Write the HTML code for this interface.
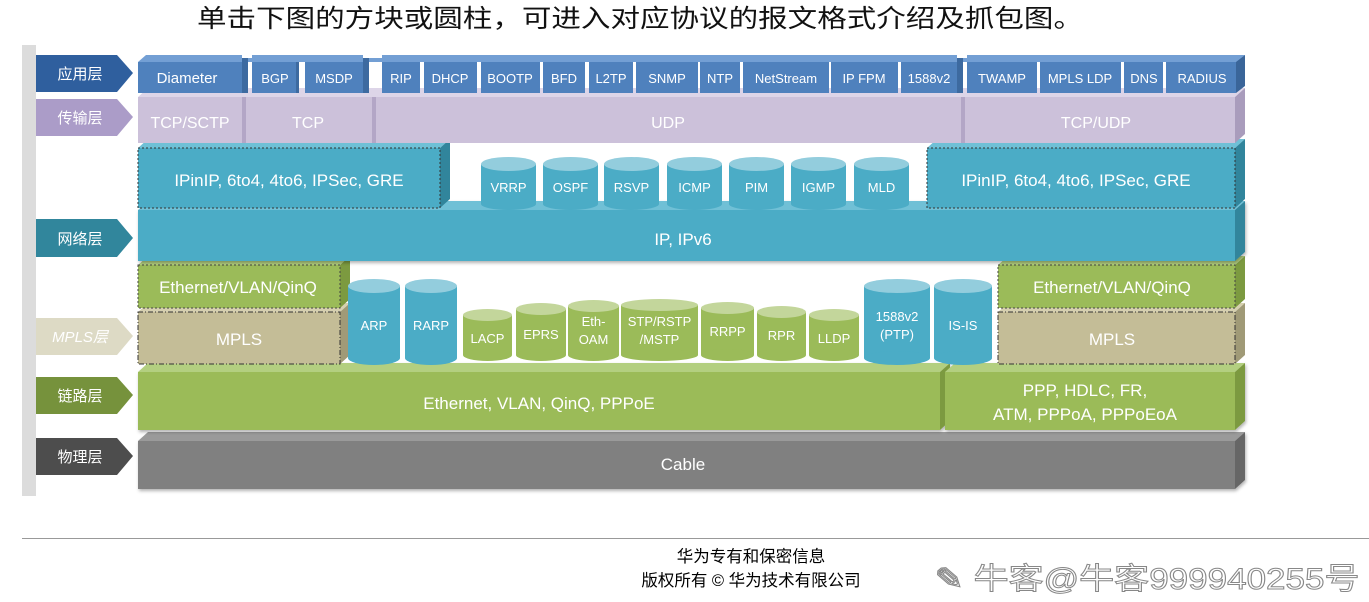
<!DOCTYPE html>
<html><head><meta charset="utf-8"><style>
html,body{margin:0;padding:0;background:#fff;width:1369px;height:602px;overflow:hidden}
svg{display:block}
text{font-family:"Liberation Sans","Noto Sans CJK SC",sans-serif;fill:#fff;text-anchor:middle}
</style></head><body>
<svg width="1369" height="602" viewBox="0 0 1369 602" xmlns="http://www.w3.org/2000/svg">
<defs>
<filter id="sh" x="-5%" y="-5%" width="110%" height="130%"><feDropShadow dx="1" dy="2" stdDeviation="1.5" flood-opacity="0.3"/></filter>
</defs>
<text x="640" y="27" font-size="25" style="fill:#111;font-family:'WenQuanYi Zen Hei','Noto Sans CJK SC',sans-serif" textLength="886" lengthAdjust="spacingAndGlyphs">单击下图的方块或圆柱，可进入对应协议的报文格式介绍及抓包图。</text>

<rect x="22" y="45" width="14" height="451" fill="#dcdcdc"/>
<g font-size="15">
<polygon points="36,55 117,55 133,73 117,92 36,92" fill="#2f5f9e"/><text x="80" y="79">应用层</text>
<polygon points="36,99 117,99 133,117 117,136 36,136" fill="#ab9cc8"/><text x="80" y="123">传输层</text>
<polygon points="36,219 117,219 133,238 117,257 36,257" fill="#31869c"/><text x="80" y="244">网络层</text>
<polygon points="36,318 117,318 133,336 117,355 36,355" fill="#dddac5"/><text x="80" y="342" font-style="italic">MPLS层</text>
<polygon points="36,377 117,377 133,395 117,414 36,414" fill="#76923c"/><text x="80" y="401">链路层</text>
<polygon points="36,438 117,438 133,456 117,475 36,475" fill="#4d4d4d"/><text x="80" y="462">物理层</text>
</g>

<g filter="url(#sh)">
<polygon points="138,441 148,432 1245,432 1235,441" fill="#9a9a9a"/>
<polygon points="1235,441 1245,432 1245,480 1235,489" fill="#666"/>
<rect x="138" y="441" width="1097" height="48" fill="#808080"/>
</g>
<text x="683" y="470" font-size="17">Cable</text>

<g filter="url(#sh)">
<polygon points="138,372 148,363 950,363 940,372" fill="#b3cf80"/>
<rect x="138" y="372" width="802" height="58" fill="#9bbb59"/>
<polygon points="940,372 950,363 950,421 940,430" fill="#7c9a40"/>
<polygon points="945,372 955,363 1245,363 1235,372" fill="#b3cf80"/>
<polygon points="1235,372 1245,363 1245,421 1235,430" fill="#7c9a40"/>
<rect x="945" y="372" width="290" height="58" fill="#9bbb59"/>
</g>
<text x="539" y="409" font-size="17">Ethernet,  VLAN,  QinQ,  PPPoE</text>
<text x="1085" y="396" font-size="17">PPP,  HDLC,   FR,</text>
<text x="1085" y="420" font-size="17">ATM,  PPPoA,  PPPoEoA</text>

<g>
<polygon points="138,312 148,303 350,303 340,312" fill="#d6d0b0"/>
<polygon points="340,312 350,303 350,355 340,364" fill="#a09a77"/>
<rect x="138" y="312" width="202" height="52" fill="#c4bd97" stroke="#333" stroke-dasharray="5,2,1,2"/>
<polygon points="998,312 1008,303 1245,303 1235,312" fill="#d6d0b0"/>
<polygon points="1235,312 1245,303 1245,355 1235,364" fill="#a09a77"/>
<rect x="998" y="312" width="237" height="52" fill="#c4bd97" stroke="#333" stroke-dasharray="5,2,1,2"/>
<polygon points="138,265 148,256 350,256 340,265" fill="#b3cf80"/>
<polygon points="340,265 350,256 350,299 340,308" fill="#7c9a40"/>
<rect x="138" y="265" width="202" height="43" fill="#9bbb59" stroke="#444" stroke-dasharray="2,2"/>
<polygon points="998,265 1008,256 1245,256 1235,265" fill="#b3cf80"/>
<polygon points="1235,265 1245,256 1245,299 1235,308" fill="#7c9a40"/>
<rect x="998" y="265" width="237" height="43" fill="#9bbb59" stroke="#444" stroke-dasharray="2,2"/>
</g>
<g font-size="17">
<text x="239" y="345">MPLS</text><text x="1112" y="345">MPLS</text>
<text x="238" y="293">Ethernet/VLAN/QinQ</text><text x="1112" y="293">Ethernet/VLAN/QinQ</text>
</g>

<g font-size="13">
<g><rect x="348" y="286" width="52" height="72" fill="#4bacc6"/><ellipse cx="374" cy="358" rx="26" ry="7" fill="#4bacc6"/><ellipse cx="374" cy="286" rx="26" ry="7" fill="#93cddd"/><text x="374" y="330">ARP</text></g>
<g><rect x="405" y="286" width="52" height="72" fill="#4bacc6"/><ellipse cx="431" cy="358" rx="26" ry="7" fill="#4bacc6"/><ellipse cx="431" cy="286" rx="26" ry="7" fill="#93cddd"/><text x="431" y="330">RARP</text></g>
<g><rect x="864" y="286" width="66" height="72" fill="#4bacc6"/><ellipse cx="897" cy="358" rx="33" ry="7" fill="#4bacc6"/><ellipse cx="897" cy="286" rx="33" ry="7" fill="#93cddd"/><text x="897" y="321">1588v2</text><text x="897" y="339">(PTP)</text></g>
<g><rect x="934" y="286" width="58" height="72" fill="#4bacc6"/><ellipse cx="963" cy="358" rx="29" ry="7" fill="#4bacc6"/><ellipse cx="963" cy="286" rx="29" ry="7" fill="#93cddd"/><text x="963" y="330">IS-IS</text></g>
<g><rect x="463" y="315" width="49" height="40" fill="#9bbb59"/><ellipse cx="487.5" cy="355" rx="24.5" ry="6" fill="#9bbb59"/><ellipse cx="487.5" cy="315" rx="24.5" ry="6" fill="#c3d69b"/><text x="487.5" y="343">LACP</text></g>
<g><rect x="516" y="309" width="50" height="46" fill="#9bbb59"/><ellipse cx="541" cy="355" rx="25" ry="6" fill="#9bbb59"/><ellipse cx="541" cy="309" rx="25" ry="6" fill="#c3d69b"/><text x="541" y="339">EPRS</text></g>
<g><rect x="568" y="306" width="51" height="49" fill="#9bbb59"/><ellipse cx="593.5" cy="355" rx="25.5" ry="6" fill="#9bbb59"/><ellipse cx="593.5" cy="306" rx="25.5" ry="6" fill="#c3d69b"/><text x="593.5" y="326">Eth-</text><text x="593.5" y="344">OAM</text></g>
<g><rect x="621" y="305" width="77" height="50" fill="#9bbb59"/><ellipse cx="659.5" cy="355" rx="38.5" ry="6" fill="#9bbb59"/><ellipse cx="659.5" cy="305" rx="38.5" ry="6" fill="#c3d69b"/><text x="659.5" y="326">STP/RSTP</text><text x="659.5" y="344">/MSTP</text></g>
<g><rect x="701" y="308" width="53" height="47" fill="#9bbb59"/><ellipse cx="727.5" cy="355" rx="26.5" ry="6" fill="#9bbb59"/><ellipse cx="727.5" cy="308" rx="26.5" ry="6" fill="#c3d69b"/><text x="727.5" y="336">RRPP</text></g>
<g><rect x="757" y="312" width="49" height="43" fill="#9bbb59"/><ellipse cx="781.5" cy="355" rx="24.5" ry="6" fill="#9bbb59"/><ellipse cx="781.5" cy="312" rx="24.5" ry="6" fill="#c3d69b"/><text x="781.5" y="340">RPR</text></g>
<g><rect x="809" y="315" width="50" height="40" fill="#9bbb59"/><ellipse cx="834" cy="355" rx="25" ry="6" fill="#9bbb59"/><ellipse cx="834" cy="315" rx="25" ry="6" fill="#c3d69b"/><text x="834" y="343">LLDP</text></g>
</g>

<g filter="url(#sh)">
<polygon points="138,210 148,201 1245,201 1235,210" fill="#6fc0d6"/>
<polygon points="1235,210 1245,201 1245,252 1235,261" fill="#31859c"/>
<rect x="138" y="210" width="1097" height="51" fill="#4bacc6"/>
</g>
<text x="683" y="245" font-size="17">IP,    IPv6</text>

<g font-size="13">
<g><rect x="481" y="164" width="55" height="40" fill="#4bacc6"/><ellipse cx="508.5" cy="204" rx="27.5" ry="6" fill="#4bacc6"/><ellipse cx="508.5" cy="164" rx="27.5" ry="7" fill="#93cddd"/><text x="508.5" y="192">VRRP</text></g>
<g><rect x="543" y="164" width="55" height="40" fill="#4bacc6"/><ellipse cx="570.5" cy="204" rx="27.5" ry="6" fill="#4bacc6"/><ellipse cx="570.5" cy="164" rx="27.5" ry="7" fill="#93cddd"/><text x="570.5" y="192">OSPF</text></g>
<g><rect x="604" y="164" width="55" height="40" fill="#4bacc6"/><ellipse cx="631.5" cy="204" rx="27.5" ry="6" fill="#4bacc6"/><ellipse cx="631.5" cy="164" rx="27.5" ry="7" fill="#93cddd"/><text x="631.5" y="192">RSVP</text></g>
<g><rect x="667" y="164" width="55" height="40" fill="#4bacc6"/><ellipse cx="694.5" cy="204" rx="27.5" ry="6" fill="#4bacc6"/><ellipse cx="694.5" cy="164" rx="27.5" ry="7" fill="#93cddd"/><text x="694.5" y="192">ICMP</text></g>
<g><rect x="729" y="164" width="55" height="40" fill="#4bacc6"/><ellipse cx="756.5" cy="204" rx="27.5" ry="6" fill="#4bacc6"/><ellipse cx="756.5" cy="164" rx="27.5" ry="7" fill="#93cddd"/><text x="756.5" y="192">PIM</text></g>
<g><rect x="791" y="164" width="55" height="40" fill="#4bacc6"/><ellipse cx="818.5" cy="204" rx="27.5" ry="6" fill="#4bacc6"/><ellipse cx="818.5" cy="164" rx="27.5" ry="7" fill="#93cddd"/><text x="818.5" y="192">IGMP</text></g>
<g><rect x="854" y="164" width="55" height="40" fill="#4bacc6"/><ellipse cx="881.5" cy="204" rx="27.5" ry="6" fill="#4bacc6"/><ellipse cx="881.5" cy="164" rx="27.5" ry="7" fill="#93cddd"/><text x="881.5" y="192">MLD</text></g>
</g>

<g>
<polygon points="138,148 148,139 450,139 440,148" fill="#6fc0d6"/>
<polygon points="440,148 450,139 450,199 440,208" fill="#31859c"/>
<rect x="138" y="148" width="302" height="60" fill="#4bacc6" stroke="#333" stroke-dasharray="2,2"/>
<polygon points="927,148 937,139 1245,139 1235,148" fill="#6fc0d6"/>
<polygon points="1235,148 1245,139 1245,199 1235,208" fill="#31859c"/>
<rect x="927" y="148" width="308" height="60" fill="#4bacc6" stroke="#333" stroke-dasharray="2,2"/>
</g>
<text x="289" y="186" font-size="17">IPinIP,  6to4,  4to6,  IPSec,  GRE</text>
<text x="1076" y="186" font-size="17">IPinIP,  6to4,  4to6,  IPSec,  GRE</text>

<g>
<polygon points="138,97 148,88 1245,88 1235,97" fill="#ddd5e8"/>
<polygon points="1235,97 1245,88 1245,134 1235,143" fill="#a99cbc"/>
<rect x="138" y="97" width="104" height="46" fill="#ccc1da"/>
<rect x="246" y="97" width="126" height="46" fill="#ccc1da"/>
<rect x="376" y="97" width="585" height="46" fill="#ccc1da"/>
<rect x="965" y="97" width="270" height="46" fill="#ccc1da"/>
<rect x="242" y="97" width="4" height="46" fill="#b3a6c6"/>
<rect x="372" y="97" width="4" height="46" fill="#b3a6c6"/>
<rect x="961" y="97" width="4" height="46" fill="#b3a6c6"/>
</g>
<g font-size="16">
<text x="190" y="128">TCP/SCTP</text><text x="308" y="128">TCP</text><text x="668" y="128">UDP</text><text x="1096" y="128">TCP/UDP</text>
</g>

<g>
<polygon points="138,62 146,55 1245,55 1237,62" fill="#739fd4"/>
<polygon points="1236,62 1245,55 1245,86 1236,93" fill="#3a6599"/>
<rect x="138" y="62" width="104" height="31" fill="#4f81bd"/><rect x="242" y="58" width="6" height="35" fill="#3d6aa0"/>
<rect x="252" y="62" width="44" height="31" fill="#4f81bd"/><rect x="296" y="62" width="3" height="31" fill="#3d6aa0"/>
<rect x="305" y="62" width="58" height="31" fill="#4f81bd"/><rect x="363" y="58" width="6" height="35" fill="#3d6aa0"/>
<rect x="382" y="62" width="38" height="31" fill="#4f81bd"/>
<rect x="424" y="62" width="53" height="31" fill="#4f81bd"/>
<rect x="481" y="62" width="59" height="31" fill="#4f81bd"/>
<rect x="543" y="62" width="42" height="31" fill="#4f81bd"/>
<rect x="589" y="62" width="44" height="31" fill="#4f81bd"/>
<rect x="636" y="62" width="62" height="31" fill="#4f81bd"/>
<rect x="700" y="62" width="40" height="31" fill="#4f81bd"/>
<rect x="743" y="62" width="86" height="31" fill="#4f81bd"/>
<rect x="831" y="62" width="67" height="31" fill="#4f81bd"/>
<rect x="901" y="62" width="56" height="31" fill="#4f81bd"/><rect x="957" y="58" width="6" height="35" fill="#3d6aa0"/>
<rect x="967" y="62" width="70" height="31" fill="#4f81bd"/>
<rect x="1040" y="62" width="81" height="31" fill="#4f81bd"/>
<rect x="1124" y="62" width="39" height="31" fill="#4f81bd"/>
<rect x="1166" y="62" width="70" height="31" fill="#4f81bd"/>
<rect x="242" y="50" width="10" height="8" fill="#fff"/><rect x="363" y="50" width="19" height="8" fill="#fff"/><rect x="957" y="50" width="10" height="8" fill="#fff"/>
</g>
<g font-size="13">
<text x="187" y="83" font-size="15">Diameter</text>
<text x="275" y="83">BGP</text><text x="334" y="83">MSDP</text>
<text x="401" y="83">RIP</text><text x="450" y="83">DHCP</text><text x="510" y="83">BOOTP</text>
<text x="564" y="83">BFD</text><text x="611" y="83">L2TP</text><text x="667" y="83">SNMP</text>
<text x="720" y="83">NTP</text><text x="786" y="83">NetStream</text><text x="864" y="83">IP FPM</text>
<text x="929" y="83">1588v2</text><text x="1002" y="83">TWAMP</text><text x="1080" y="83">MPLS LDP</text>
<text x="1144" y="83">DNS</text><text x="1202" y="83">RADIUS</text>
</g>

<rect x="22" y="538" width="1347" height="1" fill="#999"/>
<text x="751" y="562" font-size="16.5" style="fill:#000">华为专有和保密信息</text>
<text x="751" y="586" font-size="16.5" style="fill:#000">版权所有  © 华为技术有限公司</text>
<text x="1147" y="589" font-size="30" style="fill:#fff;stroke:#888;stroke-width:1" textLength="425" lengthAdjust="spacingAndGlyphs">✎ 牛客@牛客999940255号</text>
</svg>
</body></html>
